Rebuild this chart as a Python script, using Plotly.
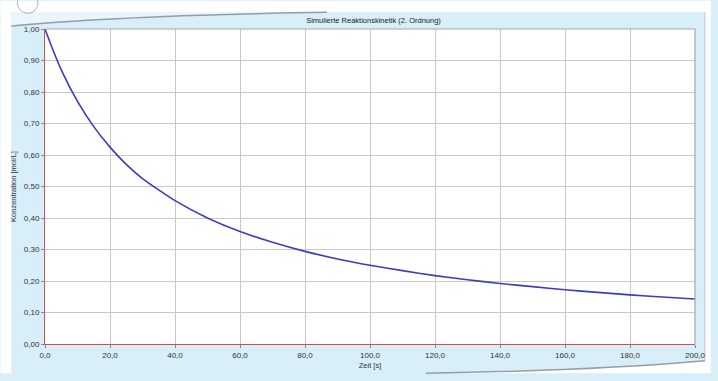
import plotly.graph_objects as go

# Data
zeit = [0, 2, 5, 10, 15, 20, 25, 30, 40, 50, 60, 70, 80, 90, 100, 110, 120,
        130, 140, 150, 160, 170, 180, 190, 200]
konz = [1.00, 0.945, 0.87, 0.77, 0.69, 0.625, 0.57, 0.525, 0.455, 0.40, 0.357,
        0.323, 0.294, 0.270, 0.250, 0.233, 0.217, 0.204, 0.192, 0.182, 0.172,
        0.164, 0.156, 0.149, 0.143]
x_ticks = [0, 20, 40, 60, 80, 100, 120, 140, 160, 180, 200]
y_ticks = [0, 0.1, 0.2, 0.3, 0.4, 0.5, 0.6, 0.7, 0.8, 0.9, 1.0]

W, H = 718, 381
L, R, T, B = 45, 16, 29, 30
PW, PH = W - L - R, H - T - B


def px(x):
    return (x - L) / PW


def py(y):
    return (H - B - y) / PH


BG = "#d8eef8"
FONT = "Liberation Sans, Arial, sans-serif"

fig = go.Figure()
fig.add_trace(go.Scatter(x=zeit, y=konz, mode="lines",
                         line=dict(color="#3c3cbf", width=1.6, shape="spline",
                                   smoothing=0.6),
                         hoverinfo="x+y", showlegend=False))

shapes = [
    # white strip at top
    dict(type="rect", xref="paper", yref="paper", x0=px(0), x1=px(W),
         y0=py(12), y1=py(0), fillcolor="white", line_width=0, layer="below"),
    # white strip at right
    dict(type="rect", xref="paper", yref="paper", x0=px(712), x1=px(W),
         y0=py(H), y1=py(0), fillcolor="white", line_width=0, layer="below"),
    # white strip at left
    dict(type="rect", xref="paper", yref="paper", x0=px(0), x1=px(11),
         y0=py(H), y1=py(0), fillcolor="white", line_width=0, layer="below"),
    # lighter band above top curl line
    dict(type="path", xref="paper", yref="paper",
         path=(f"M {px(11)},{py(26)} Q {px(120)},{py(15)} {px(330)},{py(12)} "
               f"L {px(11)},{py(12)} Z"),
         fillcolor="#eaf6fb", line_width=0, layer="below"),
    # top curl line
    dict(type="path", xref="paper", yref="paper",
         path=f"M {px(11)},{py(26)} Q {px(120)},{py(15)} {px(330)},{py(12)}",
         line=dict(color="rgba(120,130,135,0.75)", width=1.5), layer="below"),
    # bottom-right white area and curl line
    dict(type="path", xref="paper", yref="paper",
         path=(f"M {px(430)},{py(H)} Q {px(600)},{py(378)} {px(712)},{py(368)} "
               f"L {px(712)},{py(H)} Z"),
         fillcolor="white", line_width=0, layer="below"),
    dict(type="path", xref="paper", yref="paper",
         path=f"M {px(430)},{py(381)} Q {px(600)},{py(378)} {px(712)},{py(368)}",
         line=dict(color="rgba(120,130,135,0.75)", width=1.5), layer="below"),
    # right shade line
    dict(type="line", xref="paper", yref="paper", x0=px(712), x1=px(712),
         y0=py(12), y1=py(368), line=dict(color="rgba(180,195,205,0.9)", width=1),
         layer="below"),
    # small circle arc at top-left
    dict(type="circle", xref="paper", yref="paper", x0=px(17), x1=px(38),
         y0=py(13), y1=py(-9), line=dict(color="rgba(160,160,160,0.8)", width=1),
         layer="below"),
    # top and right plot border
    dict(type="path", xref="paper", yref="paper",
         path="M 0,1 L 1,1 L 1,0",
         line=dict(color="#a8a8a8", width=1.2), layer="above"),
]

fig.update_layout(
    width=W, height=H,
    margin=dict(l=L, r=R, t=T, b=B, pad=0),
    paper_bgcolor=BG, plot_bgcolor="white",
    separators=",.",
    font=dict(family=FONT, size=8, color="#333333"),
    title=dict(text="Simulierte Reaktionskinetik (2. Ordnung)",
               x=(L + PW / 2) / W, xanchor="center", y=1 - 20 / H, yanchor="middle",
               font=dict(family=FONT, size=7.5, color="#222222")),
    xaxis=dict(range=[0, 200], tickvals=x_ticks, tickformat=".1f",
               showgrid=True, gridcolor="#c8c8c8", gridwidth=1,
               showline=True, linecolor="#d05050", linewidth=1,
               ticks="outside", ticklen=3, tickcolor="#888888",
               zeroline=False, fixedrange=True,
               title=dict(text="Zeit [s]", standoff=4,
                          font=dict(family=FONT, size=7.5, color="#333333"))),
    yaxis=dict(range=[0, 1], tickvals=y_ticks, tickformat=".2f",
               showgrid=True, gridcolor="#c8c8c8", gridwidth=1,
               showline=True, linecolor="#d05050", linewidth=1,
               ticks="outside", ticklen=3, tickcolor="#888888",
               zeroline=False, fixedrange=True,
               title=dict(text="Konzentration [mol/L]", standoff=6,
                          font=dict(family=FONT, size=7.5, color="#333333"))),
    shapes=shapes,
)

fig.write_html("out.html")
